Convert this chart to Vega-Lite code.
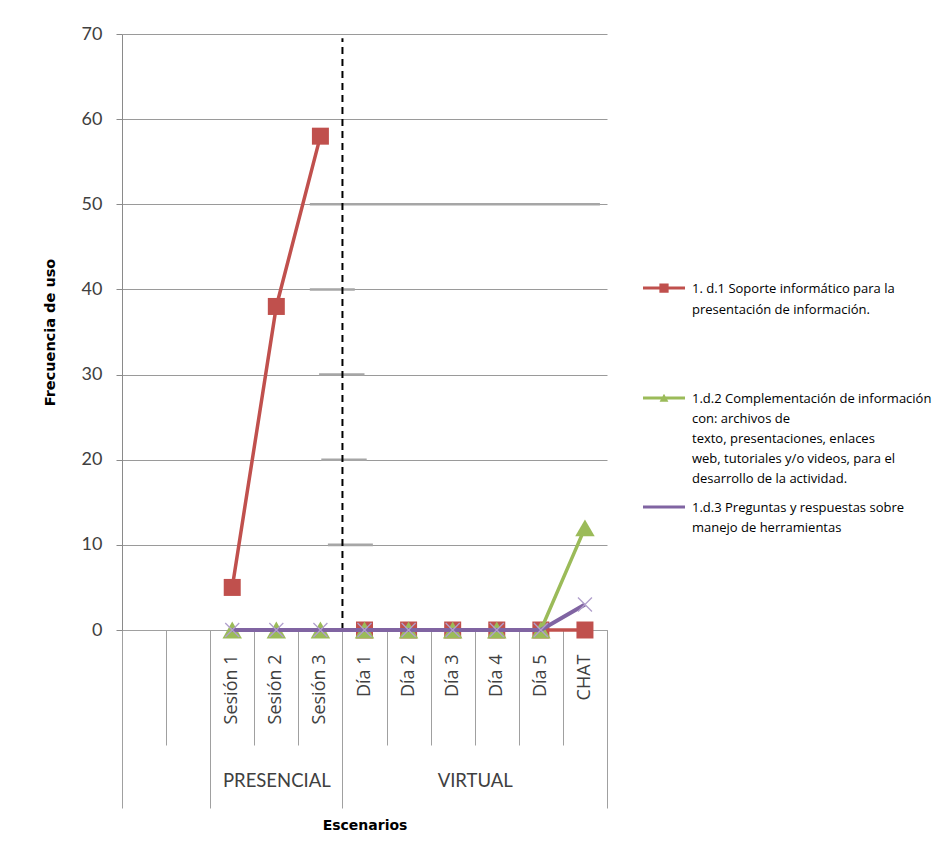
{
  "$schema": "https://vega.github.io/schema/vega-lite/v6.json",
  "width": 485,
  "height": 596,
  "autosize": {"type": "none"},
  "padding": {"left": 122, "top": 34, "right": 345, "bottom": 233},
  "background": "white",
  "config": {
    "view": {"stroke": null},
    "font": "Lato",
    "axis": {"labelFont": "Lato", "titleFont": "DejaVu Sans"},
    "axisX": {"grid": false},
    "axisY": {
      "grid": true, "gridColor": "#9a9a9a", "domainColor": "#8a8a8a", "tickColor": "#8a8a8a",
      "tickSize": 6, "labelFontSize": 18, "labelColor": "#404040", "labelPadding": 14,
      "titleFontSize": 14.5, "titleFontWeight": "bold", "titleColor": "#000000", "titlePadding": 24
    },
    "legend": {"labelFont": "Open Sans"}
  },
  "datasets": {
    "series": [
      {"escenario": "Sesión 1", "serie": "1.d.1", "tramo": "A", "frecuencia": 5},
      {"escenario": "Sesión 2", "serie": "1.d.1", "tramo": "A", "frecuencia": 38},
      {"escenario": "Sesión 3", "serie": "1.d.1", "tramo": "A", "frecuencia": 58},
      {"escenario": "Día 1", "serie": "1.d.1", "tramo": "B", "frecuencia": 0},
      {"escenario": "Día 2", "serie": "1.d.1", "tramo": "B", "frecuencia": 0},
      {"escenario": "Día 3", "serie": "1.d.1", "tramo": "B", "frecuencia": 0},
      {"escenario": "Día 4", "serie": "1.d.1", "tramo": "B", "frecuencia": 0},
      {"escenario": "Día 5", "serie": "1.d.1", "tramo": "B", "frecuencia": 0},
      {"escenario": "CHAT", "serie": "1.d.1", "tramo": "B", "frecuencia": 0},
      {"escenario": "Sesión 1", "serie": "1.d.2", "tramo": "A", "frecuencia": 0},
      {"escenario": "Sesión 2", "serie": "1.d.2", "tramo": "A", "frecuencia": 0},
      {"escenario": "Sesión 3", "serie": "1.d.2", "tramo": "A", "frecuencia": 0},
      {"escenario": "Día 1", "serie": "1.d.2", "tramo": "A", "frecuencia": 0},
      {"escenario": "Día 2", "serie": "1.d.2", "tramo": "A", "frecuencia": 0},
      {"escenario": "Día 3", "serie": "1.d.2", "tramo": "A", "frecuencia": 0},
      {"escenario": "Día 4", "serie": "1.d.2", "tramo": "A", "frecuencia": 0},
      {"escenario": "Día 5", "serie": "1.d.2", "tramo": "A", "frecuencia": 0},
      {"escenario": "CHAT", "serie": "1.d.2", "tramo": "A", "frecuencia": 12},
      {"escenario": "Sesión 1", "serie": "1.d.3", "tramo": "A", "frecuencia": 0},
      {"escenario": "Sesión 2", "serie": "1.d.3", "tramo": "A", "frecuencia": 0},
      {"escenario": "Sesión 3", "serie": "1.d.3", "tramo": "A", "frecuencia": 0},
      {"escenario": "Día 1", "serie": "1.d.3", "tramo": "A", "frecuencia": 0},
      {"escenario": "Día 2", "serie": "1.d.3", "tramo": "A", "frecuencia": 0},
      {"escenario": "Día 3", "serie": "1.d.3", "tramo": "A", "frecuencia": 0},
      {"escenario": "Día 4", "serie": "1.d.3", "tramo": "A", "frecuencia": 0},
      {"escenario": "Día 5", "serie": "1.d.3", "tramo": "A", "frecuencia": 0},
      {"escenario": "CHAT", "serie": "1.d.3", "tramo": "A", "frecuencia": 3}
    ],
    "trazos": [
      {"desde": 4.26, "hasta": 10.84, "nivel": 50},
      {"desde": 4.26, "hasta": 5.28, "nivel": 40},
      {"desde": 4.47, "hasta": 5.5, "nivel": 30},
      {"desde": 4.52, "hasta": 5.55, "nivel": 20},
      {"desde": 4.67, "hasta": 5.69, "nivel": 10},
      {"desde": 4.88, "hasta": 5.92, "nivel": 0}
    ],
    "separador": [{"posicion": 5, "inicio": 0, "fin": 69.5}]
  },
  "resolve": {"scale": {"x": "independent", "color": "independent"}, "axis": {"x": "independent"}},
  "layer": [
    {
      "data": {"name": "trazos"},
      "mark": {"type": "rule", "color": "#a6a6a6", "strokeWidth": 2.6},
      "encoding": {
        "x": {
          "field": "desde", "type": "quantitative",
          "scale": {"domain": [0, 11], "nice": false, "zero": false},
          "axis": {
            "orient": "bottom", "values": [0, 2, 5, 11], "tickSize": 178, "tickColor": "#a0a0a0", "labels": false,
            "domain": false, "grid": false, "title": "Escenarios", "titleFontSize": 14,
            "titleFontWeight": "bold", "titleColor": "#000000", "titlePadding": 10
          }
        },
        "x2": {"field": "hasta"},
        "y": {
          "field": "nivel", "type": "quantitative",
          "scale": {"domain": [0, 70], "nice": false},
          "axis": {"orient": "left", "values": [0, 10, 20, 30, 40, 50, 60, 70], "title": "Frecuencia de uso"}
        }
      }
    },
    {
      "data": {"name": "separador"},
      "mark": {"type": "rule", "color": "#000000", "strokeWidth": 2, "strokeDash": [7, 5]},
      "encoding": {
        "x": {
          "field": "posicion", "type": "quantitative",
          "scale": {"domain": [0, 11], "nice": false, "zero": false},
          "axis": {
            "orient": "bottom", "values": [3.5, 8], "ticks": false, "domain": false, "grid": false,
            "labelExpr": "datum.value < 5 ? 'PRESENCIAL' : 'VIRTUAL'",
            "labelFontSize": 18.5, "labelColor": "#404040", "labelBaseline": "top",
            "labelPadding": 141, "labelFlush": false, "labelOverlap": false, "title": null
          }
        },
        "y": {
          "field": "inicio", "type": "quantitative",
          "scale": {"domain": [0, 70], "nice": false},
          "axis": {"orient": "left", "values": [0, 10, 20, 30, 40, 50, 60, 70], "title": "Frecuencia de uso"}
        },
        "y2": {"field": "fin"}
      }
    },
    {
      "data": {"name": "series"},
      "transform": [{"filter": "datum.serie === '1.d.1'"}],
      "mark": {"type": "line", "strokeWidth": 3.5, "point": {"shape": "square", "size": 289, "filled": true, "opacity": 1}},
      "encoding": {
        "x": {
          "field": "escenario", "type": "nominal",
          "scale": {"type": "band", "domain": [" ", "  ", "Sesión 1", "Sesión 2", "Sesión 3", "Día 1", "Día 2", "Día 3", "Día 4", "Día 5", "CHAT"], "paddingInner": 0, "paddingOuter": 0},
          "axis": {
            "orient": "bottom", "ticks": false, "domain": false, "grid": false, "labelAngle": -90,
            "labelFont": "Open Sans", "labelFontSize": 18, "labelColor": "#404040", "labelPadding": 24, "title": null
          }
        },
        "y": {
          "field": "frecuencia", "type": "quantitative",
          "scale": {"domain": [0, 70], "nice": false},
          "axis": {"orient": "left", "values": [0, 10, 20, 30, 40, 50, 60, 70], "title": "Frecuencia de uso"}
        },
        "detail": {"field": "tramo"},
        "color": {
          "field": "serie", "type": "nominal",
          "scale": {"range": ["#C0504D"]},
          "legend": {
            "orient": "none", "legendX": 521, "legendY": 237.5, "title": null, "padding": 0,
            "symbolType": "M-1,-0.28H1V-0.14H-1Z M-0.22,-0.43H0.22V0.01H-0.22Z",
            "symbolSize": 1764, "symbolStrokeWidth": 0, "symbolFillColor": "#C0504D",
            "labelExpr": "['1. d.1 Soporte informático para la', 'presentación de información.']",
            "labelFontSize": 13, "labelColor": "#000000", "labelBaseline": "alphabetic",
            "labelOffset": 7, "labelLimit": 400,
            "encode": {"labels": {"update": {"lineHeight": {"value": 21}}}, "symbols": {"update": {"fill": {"value": "#C0504D"}, "stroke": {"value": "transparent"}}}}
          }
        }
      }
    },
    {
      "data": {"name": "series"},
      "transform": [{"filter": "datum.serie === '1.d.2'"}],
      "mark": {"type": "line", "strokeWidth": 3.5, "point": {"shape": "triangle-up", "size": 380, "filled": true, "opacity": 1}},
      "encoding": {
        "x": {
          "field": "escenario", "type": "nominal",
          "scale": {"type": "band", "domain": [" ", "  ", "Sesión 1", "Sesión 2", "Sesión 3", "Día 1", "Día 2", "Día 3", "Día 4", "Día 5", "CHAT"], "paddingInner": 0, "paddingOuter": 0},
          "axis": {
            "orient": "bottom", "tickBand": "extent", "tickSize": 115, "tickColor": "#a0a0a0", "labels": false,
            "domain": true, "domainColor": "#a0a0a0", "grid": false, "title": null
          }
        },
        "y": {
          "field": "frecuencia", "type": "quantitative",
          "scale": {"domain": [0, 70], "nice": false},
          "axis": {"orient": "left", "values": [0, 10, 20, 30, 40, 50, 60, 70], "title": "Frecuencia de uso"}
        },
        "color": {
          "field": "serie", "type": "nominal",
          "scale": {"range": ["#9BBB59"]},
          "legend": {
            "orient": "none", "legendX": 521, "legendY": 347.5, "title": null, "padding": 0,
            "symbolType": "M-1,-0.28H1V-0.14H-1Z M0,-0.42L0.21,-0.04H-0.21Z",
            "symbolSize": 1764, "symbolStrokeWidth": 0, "symbolFillColor": "#9BBB59",
            "labelExpr": "['1.d.2 Complementación  de información', 'con: archivos de', 'texto, presentaciones, enlaces', 'web, tutoriales y/o videos, para el', 'desarrollo de la actividad.']",
            "labelFontSize": 13, "labelColor": "#000000", "labelBaseline": "alphabetic",
            "labelOffset": 7, "labelLimit": 400,
            "encode": {"labels": {"update": {"lineHeight": {"value": 20}}}, "symbols": {"update": {"fill": {"value": "#9BBB59"}, "stroke": {"value": "transparent"}}}}
          }
        }
      }
    },
    {
      "data": {"name": "series"},
      "transform": [{"filter": "datum.serie === '1.d.3'"}],
      "mark": {"type": "line", "strokeWidth": 4},
      "encoding": {
        "x": {
          "field": "escenario", "type": "nominal",
          "scale": {"type": "band", "domain": [" ", "  ", "Sesión 1", "Sesión 2", "Sesión 3", "Día 1", "Día 2", "Día 3", "Día 4", "Día 5", "CHAT"], "paddingInner": 0, "paddingOuter": 0},
          "axis": null
        },
        "y": {
          "field": "frecuencia", "type": "quantitative",
          "scale": {"domain": [0, 70], "nice": false},
          "axis": {"orient": "left", "values": [0, 10, 20, 30, 40, 50, 60, 70], "title": "Frecuencia de uso"}
        },
        "color": {
          "field": "serie", "type": "nominal",
          "scale": {"range": ["#8064A2"]},
          "legend": {
            "orient": "none", "legendX": 521, "legendY": 456.5, "title": null, "padding": 0,
            "symbolType": "M-1,-0.28H1V-0.14H-1Z",
            "symbolSize": 1764, "symbolStrokeWidth": 0, "symbolFillColor": "#8064A2",
            "labelExpr": "['1.d.3 Preguntas y respuestas sobre', 'manejo de herramientas']",
            "labelFontSize": 13, "labelColor": "#000000", "labelBaseline": "alphabetic",
            "labelOffset": 7, "labelLimit": 400,
            "encode": {"labels": {"update": {"lineHeight": {"value": 20}}}, "symbols": {"update": {"fill": {"value": "#8064A2"}, "stroke": {"value": "transparent"}}}}
          }
        }
      }
    },
    {
      "data": {"name": "series"},
      "transform": [{"filter": "datum.serie === '1.d.3'"}],
      "mark": {"type": "point", "shape": "M-1,-1L1,1M-1,1L1,-1", "size": 196, "filled": false, "color": "#b09fcc", "strokeWidth": 1.3, "opacity": 1},
      "encoding": {
        "x": {
          "field": "escenario", "type": "nominal",
          "scale": {"type": "band", "domain": [" ", "  ", "Sesión 1", "Sesión 2", "Sesión 3", "Día 1", "Día 2", "Día 3", "Día 4", "Día 5", "CHAT"], "paddingInner": 0, "paddingOuter": 0},
          "axis": null
        },
        "y": {
          "field": "frecuencia", "type": "quantitative",
          "scale": {"domain": [0, 70], "nice": false},
          "axis": {"orient": "left", "values": [0, 10, 20, 30, 40, 50, 60, 70], "title": "Frecuencia de uso"}
        }
      }
    }
  ]
}
